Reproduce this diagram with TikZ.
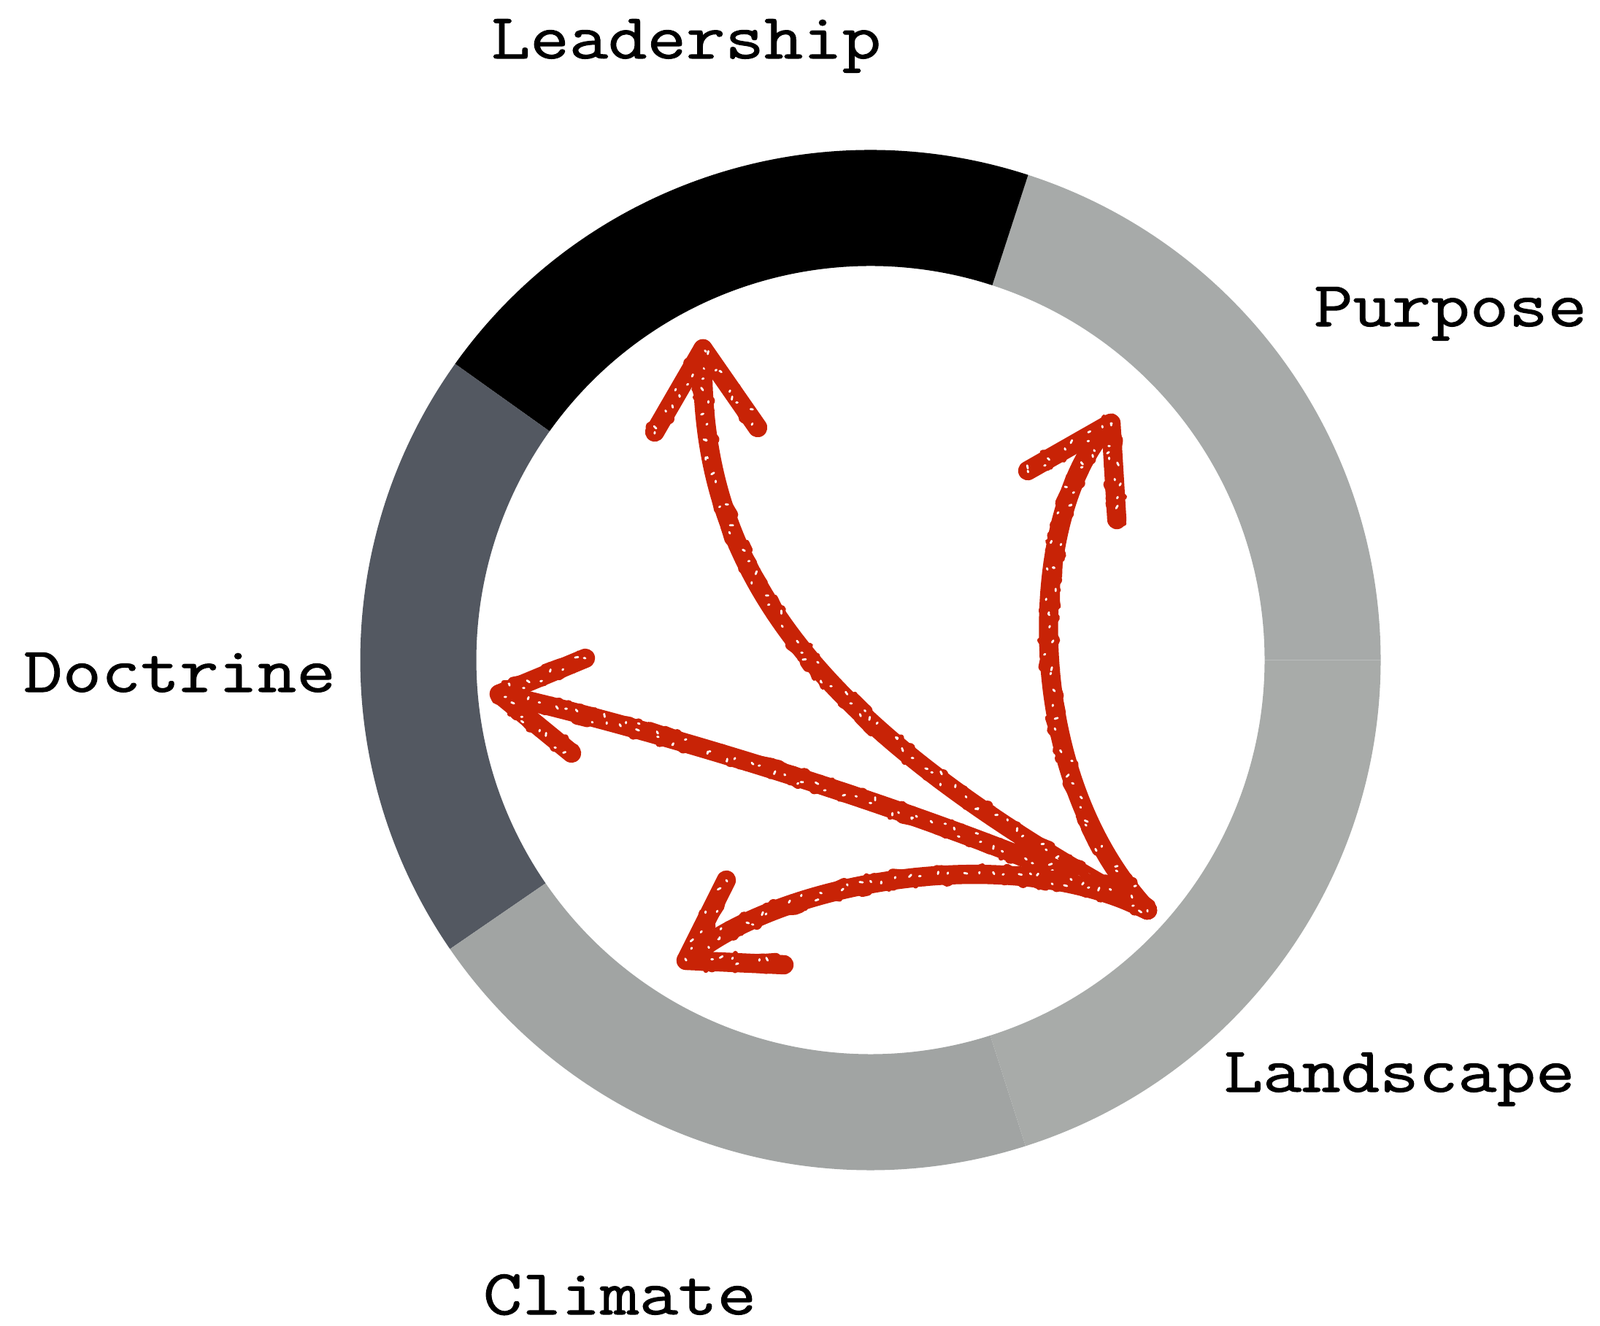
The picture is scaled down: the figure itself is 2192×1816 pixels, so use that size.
\documentclass[tikz,border=0pt]{standalone}
\usepackage{fontspec}
\newfontfamily\labelfont[FakeBold=1.2,FakeStretch=1.18]{Latin Modern Mono}
\usetikzlibrary{decorations.pathmorphing}
\definecolor{ringpurpose}{HTML}{A7AAA9}
\definecolor{ringlandscape}{HTML}{A8ABA9}
\definecolor{ringclimate}{HTML}{A1A4A3}
\definecolor{ringdoctrine}{HTML}{535861}
\definecolor{sketchred}{HTML}{C82306}
\newcommand\ringsector[3]{\fill[#3] (-#1:699) arc[start angle=-#1, end angle=-#2, radius=699] -- (-#2:540) arc[start angle=-#2, end angle=-#1, radius=540] -- cycle;}
\begin{document}
\begin{tikzpicture}[x=0.01cm,y=-0.01cm,
  lbl/.style={font=\labelfont\fontsize{25}{28}\selectfont, text=black, inner sep=0pt, anchor=base},
  arrowline/.style={draw=sketchred, line width=7.5pt, line cap=round, line join=round,
    postaction={draw=sketchred, line width=4pt, line cap=round, decorate, decoration={random steps, segment length=2.5pt, amplitude=2.6pt}},
    postaction={draw=sketchred, line width=2pt, line cap=round, decorate, decoration={random steps, segment length=2pt, amplitude=3.6pt}},
    postaction={draw=white, line width=0.8pt, dash pattern=on 0.6pt off 5pt on 1.2pt off 11pt on 0.5pt off 7pt on 0.9pt off 14pt, decorate, decoration={random steps, segment length=1.5pt, amplitude=2.8pt}}}]
\useasboundingbox (0,0) rectangle (2192,1816);
\fill[white] (0,0) rectangle (2192,1816);
% ring
\begin{scope}[shift={(1192.5,904.5)}]
  \ringsector{0}{72}{ringpurpose}
  \ringsector{72}{144.5}{black}
  \ringsector{144.5}{214.5}{ringdoctrine}
  \ringsector{214.5}{287.7}{ringclimate}
  \ringsector{287.7}{360}{ringlandscape}
\end{scope}
% labels
\node[lbl] (leadership) at (940,80) {Leadership};
\node[lbl] (purpose) at (1987,447) {Purpose};
\node[lbl] (doctrine) at (246,948) {Doctrine};
\node[lbl] (landscape) at (1917,1496) {Landscape};
\node[lbl] (climate) at (849,1801) {Climate};
% sketched arrows
\coordinate (o) at (1572,1247);
\coordinate (lt) at (963,478);
\coordinate (lbl) at (897,592);
\coordinate (lbr) at (1038,586);
\coordinate (pt) at (1522,580);
\coordinate (pbl) at (1408,645);
\coordinate (pbr) at (1530,712);
\coordinate (dt) at (684,951);
\coordinate (dbu) at (802,902);
\coordinate (dbd) at (783,1032);
\coordinate (ct) at (940,1316);
\coordinate (cbu) at (995,1206);
\coordinate (cbd) at (1074,1322);
\draw[arrowline] (o) .. controls (1100,990) and (955,770) .. (lt);
\draw[arrowline] (lbl) -- (lt) -- (lbr);
\draw[arrowline] (o) .. controls (1390,1050) and (1410,690) .. (pt);
\draw[arrowline] (pbl) -- (pt) -- (pbr);
\draw[arrowline] (o) .. controls (1300,1120) and (900,1000) .. (dt);
\draw[arrowline] (dbu) -- (dt) -- (dbd);
\draw[arrowline] (o) .. controls (1380,1150) and (1060,1210) .. (ct);
\draw[arrowline] (cbu) -- (ct) -- (cbd);
\end{tikzpicture}
\end{document}
